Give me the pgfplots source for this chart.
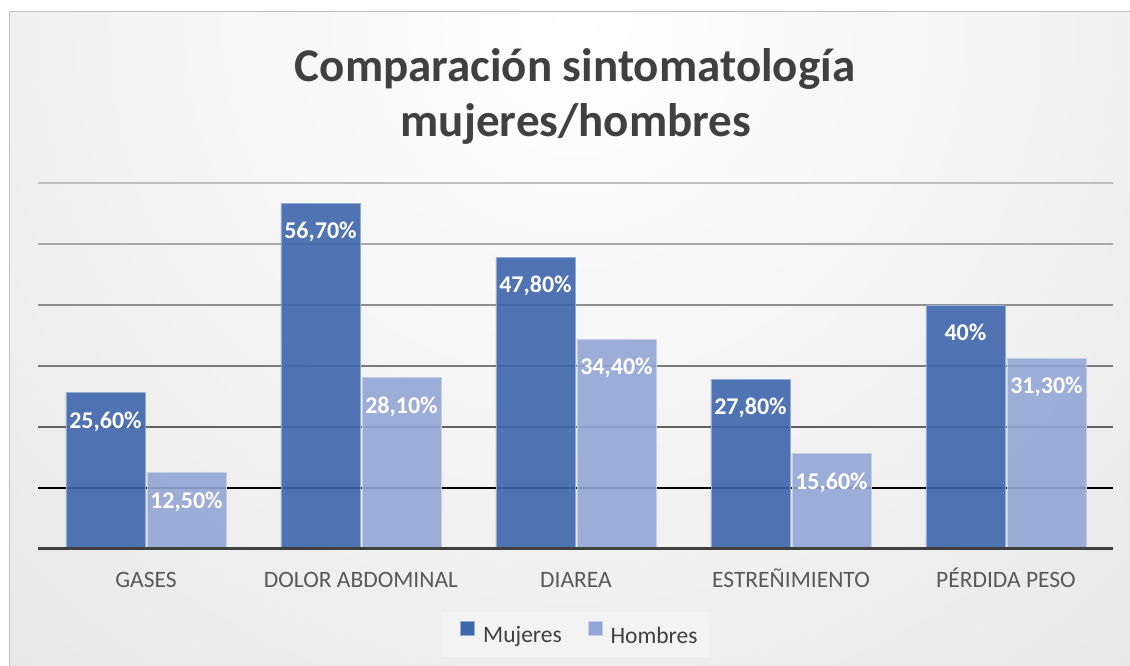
\documentclass[border=0pt]{standalone}
\usepackage{pgfplots}
\pgfplotsset{compat=1.18}
\usepackage{fontspec}
\setmainfont{Carlito}
\definecolor{cM}{RGB}{62,102,172}
\definecolor{cH}{RGB}{147,166,213}
\definecolor{bgend}{RGB}{212,212,212}
\definecolor{tickc}{RGB}{89,89,89}
\definecolor{titlec}{RGB}{64,64,64}
\begin{document}
\begin{tikzpicture}[x=1pt,y=1pt]
\path[use as bounding box] (0,0) rectangle (1130,666);
\begin{scope}
\clip (9,0) rectangle (1130,654);
\shade[inner color=white, outer color=bgend] (575,640) circle (1600);
\end{scope}
\draw[color=black!25, line width=1pt] (9,-2) -- (9,654) -- (1132,654);
\fill[white, opacity=0.3] (442,9) rectangle (709,54);
\node[anchor=base, font=\fontsize{47}{56}\selectfont\bfseries, text=titlec, inner sep=0] at (575,584) {Comparación sintomatología};
\node[anchor=base, font=\fontsize{47}{56}\selectfont\bfseries, text=titlec, inner sep=0] at (576,529) {mujeres/hombres};
\begin{axis}[
  at={(38.5pt,117pt)}, anchor=south west,
  scale only axis, width=1075pt, height=366pt,
  xmin=-0.5, xmax=4.5, ymin=0, ymax=60,
  clip=false,
  axis line style={draw=none},
  ytick=\empty,
  xtick={0,1,2,3,4},
  xticklabels={GASES, DOLOR ABDOMINAL, DIAREA, ESTREÑIMIENTO, PÉRDIDA PESO},
  major tick length=0pt,
  xticklabel style={anchor=base, yshift=-39pt, font=\fontsize{23.5}{28}\selectfont, text=tickc, inner sep=0},
  ybar, bar width=79pt,
  nodes near coords,
  point meta=explicit symbolic,
  every node near coord/.append style={anchor=base, yshift=-35.5pt, font=\fontsize{24}{28}\selectfont\bfseries, text=white, text opacity=1, fill opacity=1},
  legend columns=2,
  legend style={at={(0.5037,-0.232)}, anchor=center, draw=none, fill=none,
    font=\fontsize{23.5}{28}\selectfont, text=titlec, inner xsep=0pt, inner ysep=6pt,
    /tikz/every odd column/.append style={column sep=6pt},
    /tikz/every even column/.append style={column sep=24pt}},
  legend cell align=left,
  legend image code/.code={\draw[#1, fill opacity=1, draw opacity=1] (0pt,0pt) rectangle (14pt,14pt);},
]
\draw[color=black, line width=1.5pt] (axis cs:-0.5,10) -- (axis cs:4.5,10);
\draw[color=black!62, line width=1.5pt] (axis cs:-0.5,20) -- (axis cs:4.5,20);
\draw[color=black!52, line width=1.5pt] (axis cs:-0.5,30) -- (axis cs:4.5,30);
\draw[color=black!44, line width=1.5pt] (axis cs:-0.5,40) -- (axis cs:4.5,40);
\draw[color=black!34, line width=1.5pt] (axis cs:-0.5,50) -- (axis cs:4.5,50);
\draw[color=black!25, line width=1.5pt] (axis cs:-0.5,60) -- (axis cs:4.5,60);
\addplot[fill=cM, draw=cM!55!white, line width=0.8pt, fill opacity=0.9, bar shift=-40.5pt]
  coordinates {(0,25.6) [{25,60\%}] (1,56.7) [{56,70\%}] (2,47.8) [{47,80\%}] (3,27.8) [{27,80\%}] (4,40) [{40\%}]};
\addlegendentry{Mujeres}
\addplot[fill=cH, draw=cH!55!white, line width=0.8pt, fill opacity=0.9, bar shift=40.5pt]
  coordinates {(0,12.5) [{12,50\%}] (1,28.1) [{28,10\%}] (2,34.4) [{34,40\%}] (3,15.6) [{15,60\%}] (4,31.3) [{31,30\%}]};
\addlegendentry{Hombres}
\draw[color=titlec, line width=3pt] (axis cs:-0.5,0) -- (axis cs:4.5,0);
\end{axis}
\end{tikzpicture}
\end{document}
